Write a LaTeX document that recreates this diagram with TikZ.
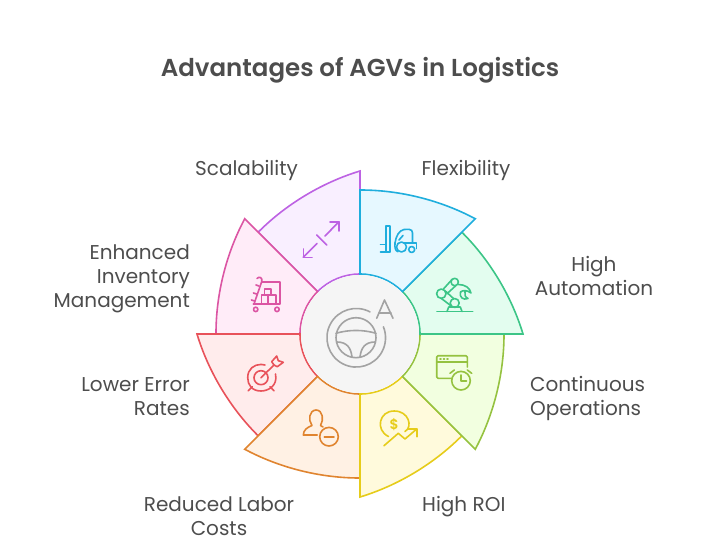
\documentclass[tikz,border=0pt]{standalone}
\usepackage{fontspec}
\setmainfont{Poppins}
\newfontfamily\titlefont{Poppins SemiBold}
\usetikzlibrary{positioning}
\definecolor{textgray}{HTML}{4D4D4D}
\definecolor{hubgray}{HTML}{A3A3A3}
\definecolor{hubfill}{HTML}{F5F5F5}
\definecolor{flexline}{HTML}{1FAEDD}
\definecolor{flexfill}{HTML}{E6F8FF}
\definecolor{autoline}{HTML}{3CC587}
\definecolor{autofill}{HTML}{E3FDEF}
\definecolor{contline}{HTML}{95C240}
\definecolor{contfill}{HTML}{F2FFE0}
\definecolor{roiline}{HTML}{E6CC1A}
\definecolor{roifill}{HTML}{FFFADC}
\definecolor{laborline}{HTML}{E0842F}
\definecolor{laborfill}{HTML}{FFF1E4}
\definecolor{errline}{HTML}{E8525A}
\definecolor{errfill}{HTML}{FFECEC}
\definecolor{invline}{HTML}{DB55A3}
\definecolor{invfill}{HTML}{FFECF8}
\definecolor{scaleline}{HTML}{BD62E3}
\definecolor{scalefill}{HTML}{F9EFFF}
\tikzstyle{segment} = [line width=1.6pt, line join=miter]
\tikzstyle{icon} = [line width=1.6pt, line cap=round, line join=round]
\tikzstyle{itemtext} = [text=textgray, inner sep=0pt,
    font=\fontsize{20}{24}\selectfont]
\newcommand{\segment}[3]{%
    \draw [segment, draw=#2, fill=#3] (#1:60) -- (#1:144)
        to[bend left=14.15, looseness=0.85] (#1-45:163) -- (#1-45:60)
        arc[start angle=#1-45, end angle=#1, radius=60] -- cycle;
}

\begin{document}
\begin{tikzpicture}[x=1pt, y=1pt]
    \useasboundingbox (-360,-218) rectangle (348,334);
    % Each segment overlaps the one before it
    \segment{135}{scaleline}{scalefill}
    \segment{180}{invline}{invfill}
    \segment{225}{errline}{errfill}
    \segment{270}{laborline}{laborfill}
    \segment{315}{roiline}{roifill}
    \segment{360}{contline}{contfill}
    \segment{45}{autoline}{autofill}
    \segment{90}{flexline}{flexfill}
    \fill [hubfill] (0,0) circle (59);

    % Texts
    \node [text=textgray, inner sep=0pt, font=\titlefont\fontsize{24.5}{29}\selectfont]
        (title) at (0,264) {Advantages of AGVs in Logistics};
    \node [itemtext] (scalability) at (-113.5,164) {Scalability};
    \node [itemtext] (flexibility) at (106,164) {Flexibility};
    \node [itemtext, anchor=east, align=right] (inventory) at (-170,55)
        {Enhanced\\Inventory\\Management};
    \node [itemtext, align=center] (automation) at (234,58) {High\\Automation};
    \node [itemtext, anchor=west, align=left] (operations) at (170,-64)
        {Continuous\\Operations};
    \node [itemtext, anchor=east, align=right] (errors) at (-170,-63)
        {Lower Error\\Rates};
    \node [itemtext, align=center] (labor) at (-141,-182) {Reduced Labor\\Costs};
    \node [itemtext, anchor=west] (roi) at (62,-173) {High ROI};

    % Icons, written in picture pixels
    \begin{scope}[shift={(-360,334)}, y=-1pt]
        % steering wheel
        \draw [icon, hubgray] (370,311.9) arc[start angle=-62, end angle=-382, radius=29.3];
        \draw [icon, hubgray] (356,337.7) circle (20);
        \draw [icon, hubgray] (336,333.3) .. controls (349,329.5) and (363,329.5) .. (376,333.3);
        \draw [icon, hubgray] (337,342) .. controls (347,342) and (351,348) .. (352,357);
        \draw [icon, hubgray] (375,342) .. controls (365,342) and (361,348) .. (360,357);
        \draw [icon, hubgray] (376.7,318.3) -- (384.5,300) -- (393,318.3);
        \draw [icon, hubgray] (379,312.7) -- (391,312.7);
        % double arrow
        \draw [icon, scaleline] (303.3,257.3) -- (317,243.5);
        \draw [icon, scaleline] (325,236) -- (339,221.7);
        \draw [icon, scaleline] (303.3,249) -- (303.3,257.3) -- (312,257.3);
        \draw [icon, scaleline] (330,221.7) -- (339,221.7) -- (339,231);
        \draw [icon, scaleline] (316.7,235) -- (326.7,245);
        % cart
        \draw [icon, invline] (261.7,281.7) -- (280,281.7) -- (280,304) -- (253.3,304);
        \draw [icon, invline] (257,278.5) .. controls (259,276) and (263,277.5) .. (261.7,281.7)
            -- (254,304);
        \draw [icon, invline] (256,285) -- (259,286) (253.5,293) -- (256.5,294)
            (251.5,300) -- (254.5,301);
        \draw [icon, invline] (255.7,309.4) circle (2.2);
        \draw [icon, invline] (277,309.4) circle (2.2);
        \draw [icon, invline] (261.5,303) -- (261.5,295) -- (276,295) -- (276,303);
        \draw [icon, invline] (264.5,295) -- (264.5,289) -- (271,289) -- (271,295);
        \draw [icon, invline] (268,295) -- (268,303);
        % forklift
        \draw [icon, flexline] (386,251.7) -- (386,226) -- (390,226) -- (390,251.7);
        \draw [icon, flexline] (380.5,251.7) -- (390,251.7) (380.5,244.5) -- (386,244.5);
        \draw [icon, flexline] (395,243) .. controls (396,236) and (399,230.5) .. (404,229.5)
            -- (409,229.3) .. controls (411.5,229.3) and (412.5,231) .. (412.5,233) -- (412.5,242.5);
        \draw [icon, flexline] (395,243) .. controls (394.5,248) and (395.5,251) .. (398,251.7);
        \draw [icon, flexline] (404,242.7) -- (416.5,242.7) -- (416.5,248.5);
        \draw [icon, flexline] (401.5,247) circle (5);
        \draw [icon, flexline] (411.7,249.5) circle (3);
        \draw [icon, flexline] (399,240) -- (403,235.5);
        % robot arm
        \draw [icon, autoline] (437,311.5) -- (472.7,311.5);
        \draw [icon, autoline] (447,311.5) -- (448.7,307) -- (460.3,307) -- (462,311.5);
        \draw [icon, autoline] (454.7,303) circle (4.5);
        \draw [icon, autoline] (441.3,293.7) circle (4.7);
        \draw [icon, autoline] (454.7,282) circle (3.7);
        \draw [icon, autoline] (441.3,298.4) -- (450.3,305.3) (445.3,291) -- (453.7,298.7);
        \draw [icon, autoline] (443.7,288.7) -- (452,279.5) (447,293.7) -- (456,285.5);
        \draw [icon, autoline] (458.5,284.5) .. controls (465,284.5) and (470,288) .. (471,293)
            .. controls (467,290) and (463,290) .. (460.5,292)
            .. controls (459,297) and (463,300.5) .. (468,298.5)
            .. controls (465,297) and (464.5,295) .. (465,292);
        % window with clock
        \draw [icon, contline] (452,378.3) -- (438,378.3) -- (436.7,377) -- (436.7,357)
            -- (438,355.7) -- (466,355.7) -- (467.3,357) -- (467.3,367);
        \draw [icon, contline] (436.7,361.7) -- (467.3,361.7);
        \draw [icon, contline] (440,359) -- (441,359) (443.5,359) -- (444.5,359)
            (447,359) -- (448,359);
        \draw [icon, contline] (461,380.7) circle (9.3);
        \draw [icon, contline] (461,375) -- (461,380.7) -- (466.5,380.7);
        \draw [icon, contline] (450,373.3) -- (454.3,370) (467.3,370) -- (471.7,373.3);
        % dollar coin and rising line
        \draw [icon, roiline] (388.5,436.5) .. controls (375,430) and (379,410.8) .. (394.3,411)
            .. controls (409,411) and (413,427) .. (405,431.5);
        \node [text=roiline, inner sep=0pt, font=\titlefont\fontsize{14}{14}\selectfont] (dollar)
            at (394.3,424.5) {\$};
        \draw [icon, roiline] (384,445.7) -- (398.3,433.3) -- (405,439) -- (416.7,429);
        \draw [icon, roiline] (408.3,429) -- (416.7,429) -- (416.7,436.7);
        % person with minus sign
        \draw [icon, laborline] (317.3,435) -- (303.3,435) .. controls (303.5,430) and (307,427.5) .. (312,425.5)
            .. controls (308,420) and (309,410.5) .. (316,410)
            .. controls (323,410) and (324,420) .. (320.5,425.5) -- (323,427);
        \draw [icon, laborline] (329,436.7) circle (9.3);
        \draw [icon, laborline] (324.3,436.7) -- (334,436.7);
        % target with dart
        \draw [icon, errline] (275.5,374) .. controls (278,386) and (268,391) .. (261,391)
            .. controls (252,391) and (247.7,385) .. (247.7,377.7)
            .. controls (247.7,369) and (254,364.4) .. (261,364.4) -- (265,365);
        \draw [icon, errline] (261,377.7) circle (7);
        \draw [icon, errline] (261,377.7) -- (274,365);
        \draw [icon, errline] (271.7,361.7) -- (276.7,356) -- (278.3,360.7) -- (283.3,362.3)
            -- (277.3,366.7) -- (274,365) -- cycle;
        \draw [icon, errline] (248.3,390.7) -- (252.3,386.7) (274,390.7) -- (270,386.7);
    \end{scope}
\end{tikzpicture}
\end{document}
